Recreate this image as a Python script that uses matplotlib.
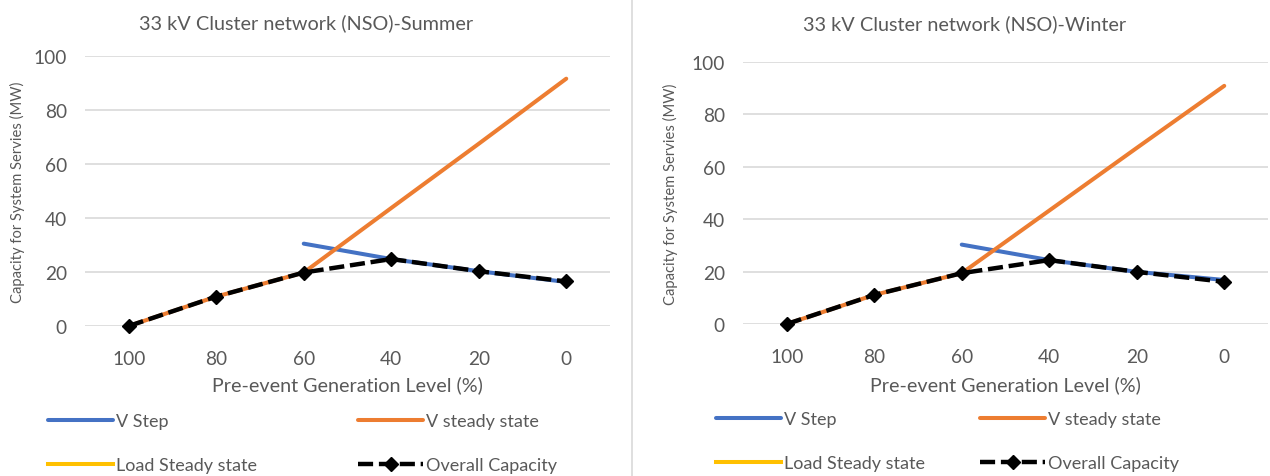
import numpy as np
import matplotlib
matplotlib.use("Agg")
import matplotlib.pyplot as plt
from matplotlib.lines import Line2D

plt.rcParams['font.family'] = ['Lato', 'DejaVu Sans']

# category axis (pre-event generation level, %)
levels = ['100', '80', '60', '40', '20', '0']

# summer
summer_vstep = [np.nan, np.nan, 30.5, 24.8, 20.3, 16.3]
summer_vss = [0, 10.9, 19.8, 43.7, 67.5, 91.6]
summer_load = [np.nan] * 6
summer_overall = [0, 10.9, 19.8, 24.8, 20.3, 16.5]

# winter
winter_vstep = [np.nan, np.nan, 30.3, 24.4, 19.9, 16.8]
winter_vss = [0, 11.1, 19.4, 43.3, 67.2, 90.9]
winter_load = [np.nan] * 6
winter_overall = [0, 11.1, 19.4, 24.4, 19.9, 16.1]

grey = '#595959'
W, H = 1270, 477

fig = plt.figure(figsize=(W / 100, H / 100), dpi=100)


def px(x0, y0, x1, y1):
    # pixel box (top-left origin) -> figure fraction rect
    return [x0 / W, 1 - y1 / H, (x1 - x0) / W, (y1 - y0) / H]


def draw(rect, title, title_xy, vstep, vss, load, overall, xlab_y, ylab_x, leg_x, leg_y):
    ax = fig.add_axes(rect)
    x = np.arange(len(levels))
    ax.plot(x, vstep, color='#4472C4', lw=2.9, solid_capstyle='round', label='V Step')
    ax.plot(x, vss, color='#ED7D31', lw=2.9, solid_capstyle='round', label='V steady state')
    ax.plot(x, load, color='#FFC000', lw=2.9, label='Load Steady state')
    ax.plot(x, overall, color='black', lw=3.2, linestyle=(0, (3.4, 1.3)),
            marker='D', markersize=7, label='Overall Capacity', clip_on=False)

    ax.set_xlim(-0.5, len(levels) - 0.5)
    ax.set_ylim(0, 100)
    ax.set_xticks(x)
    ax.set_xticklabels(levels)
    ax.set_yticks([0, 20, 40, 60, 80, 100])
    for s in ax.spines.values():
        s.set_visible(False)
    ax.grid(axis='y', color='#D9D9D9', lw=1.2)
    ax.set_axisbelow(True)
    ax.tick_params(length=0, labelsize=13.8, colors=grey)
    ax.tick_params(axis='y', pad=13)
    ax.tick_params(axis='x', pad=17)

    fig.text(title_xy[0] / W, 1 - title_xy[1] / H, title, ha='center', va='center',
             fontsize=14.3, color=grey)
    cx = (rect[0] + rect[2] / 2)
    fig.text(cx, 1 - xlab_y / H, 'Pre-event Generation Level (%)', ha='center',
             va='center', fontsize=14.2, color=grey)
    fig.text(ylab_x / W, rect[1] + rect[3] / 2, 'Capacity for System Servies (MW)',
             rotation=90, ha='center', va='center', fontsize=10.6, color=grey)

    h, l = ax.get_legend_handles_labels()
    kw = dict(frameon=False, fontsize=13, labelcolor=grey, handlelength=3.6,
              handletextpad=0.15, labelspacing=1.55, borderpad=0, borderaxespad=0,
              loc='center left', bbox_transform=fig.transFigure)
    leg1 = ax.legend([h[0], h[2]], [l[0], l[2]],
                     bbox_to_anchor=(leg_x[0] / W, 1 - leg_y / H), **kw)
    ax.add_artist(leg1)
    ax.legend([h[1], h[3]], [l[1], l[3]],
              bbox_to_anchor=(leg_x[1] / W, 1 - leg_y / H), **kw)
    return ax


draw(px(85, 57, 610, 327), '33 kV Cluster network (NSO)-Summer', (306, 23),
     summer_vstep, summer_vss, summer_load, summer_overall,
     385, 17, (48, 358), 444)
draw(px(743, 63, 1268, 325), '33 kV Cluster network (NSO)-Winter', (965, 24),
     winter_vstep, winter_vss, winter_load, winter_overall,
     385, 670, (716, 980), 442)

fig.add_artist(Line2D([632 / W, 632 / W], [0, 1], color='#D9D9D9', lw=1.2))

fig.savefig('out.png', dpi=100)
